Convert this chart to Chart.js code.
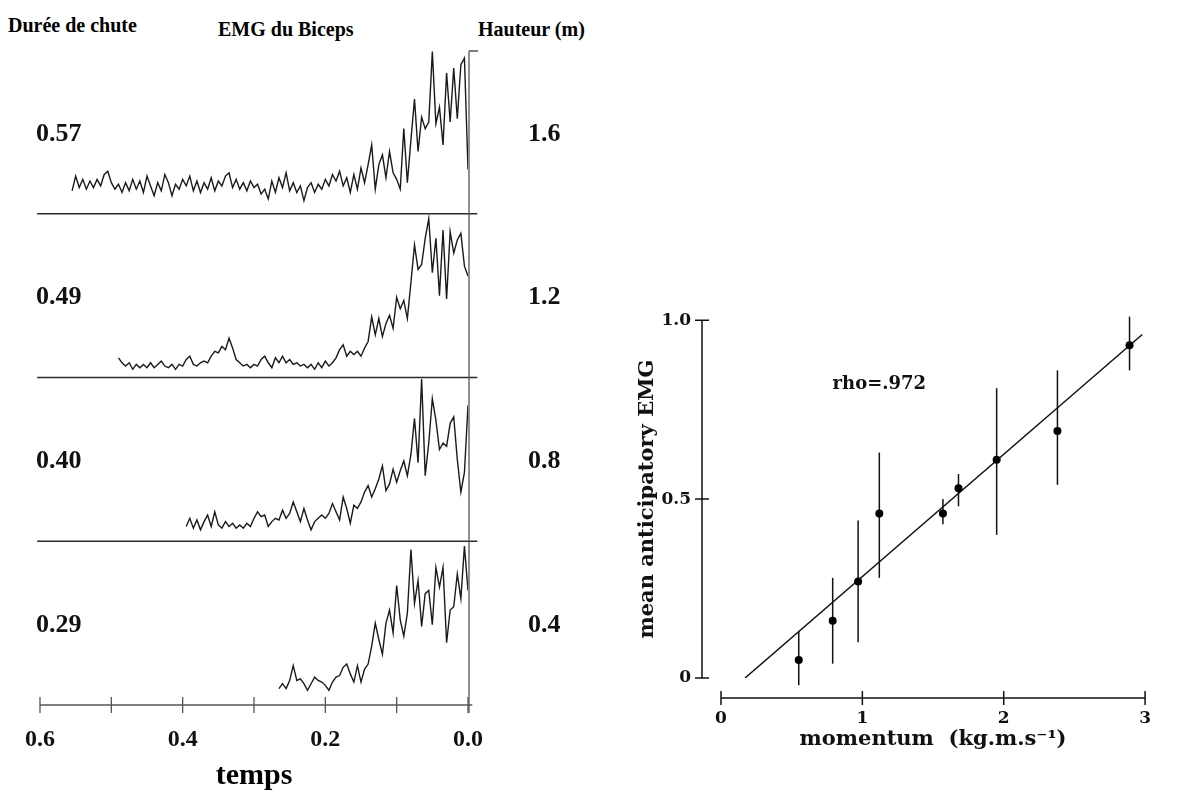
<!DOCTYPE html>
<html>
<head>
<meta charset="utf-8">
<script src="https://cdn.jsdelivr.net/npm/chart.js@4.4.0/dist/chart.umd.min.js"></script>
<style>
  html, body { margin: 0; padding: 0; background: #fff; }
  body { width: 1181px; height: 794px; position: relative; overflow: hidden; }
  #emg { position: absolute; left: 0; top: 0; }
  #corr { position: absolute; left: 600px; top: 280px; }
  .head { position: absolute; font: bold 20px "Liberation Serif", serif; line-height: 20px; color: #000; white-space: nowrap; }
</style>
</head>
<body>
<div class="head" style="left:8px; top:15px;">Durée de chute</div>
<div class="head" style="left:218px; top:19px;">EMG du Biceps</div>
<div class="head" style="left:478px; top:19px;">Hauteur (m)</div>
<canvas id="emg" width="600" height="794"></canvas>
<canvas id="corr" width="581" height="514"></canvas>
<script>
// left panel: EMG traces, one sample every 5 ms, time before contact (s)
const dt = 0.005;
const traceStart = [0.555, 0.49, 0.395, 0.265];
const dureeChute = ['0.57', '0.49', '0.40', '0.29'];
const hauteur = ['1.6', '1.2', '0.8', '0.4'];

// amplitude of each trace, as a fraction of its strip height
const emg057 = [
  0.14,0.23,0.16,0.21,0.15,0.20,0.16,0.21,0.17,0.24,
  0.26,0.19,0.15,0.18,0.13,0.19,0.14,0.21,0.15,0.20,
  0.13,0.23,0.17,0.11,0.19,0.14,0.24,0.19,0.11,0.18,
  0.15,0.21,0.17,0.23,0.14,0.20,0.13,0.19,0.15,0.22,
  0.14,0.20,0.17,0.23,0.25,0.16,0.21,0.15,0.19,0.14,
  0.20,0.16,0.18,0.12,0.15,0.09,0.20,0.13,0.22,0.16,
  0.25,0.14,0.19,0.13,0.17,0.08,0.16,0.19,0.13,0.18,
  0.15,0.21,0.17,0.24,0.20,0.26,0.17,0.22,0.13,0.24,
  0.15,0.28,0.19,0.30,0.42,0.15,0.30,0.36,0.22,0.38,
  0.25,0.21,0.15,0.52,0.19,0.45,0.70,0.38,0.59,0.52,
  0.56,0.99,0.55,0.65,0.42,0.86,0.56,0.89,0.58,0.91,
  0.95,0.27
];
const emg049 = [
  0.12,0.09,0.07,0.09,0.05,0.08,0.06,0.08,0.06,0.09,
  0.06,0.08,0.10,0.07,0.06,0.08,0.05,0.08,0.07,0.11,
  0.13,0.08,0.07,0.09,0.10,0.09,0.13,0.16,0.15,0.19,
  0.17,0.24,0.18,0.11,0.09,0.07,0.08,0.06,0.08,0.07,
  0.11,0.13,0.09,0.06,0.12,0.09,0.13,0.09,0.11,0.08,
  0.09,0.07,0.08,0.06,0.08,0.05,0.09,0.06,0.10,0.07,
  0.09,0.12,0.17,0.20,0.13,0.16,0.14,0.16,0.13,0.18,
  0.22,0.37,0.26,0.36,0.25,0.33,0.38,0.30,0.49,0.42,
  0.47,0.36,0.58,0.81,0.66,0.69,0.85,0.97,0.64,0.85,
  0.50,0.90,0.48,0.89,0.76,0.84,0.88,0.68,0.62
];
const emg040 = [
  0.09,0.14,0.08,0.13,0.07,0.12,0.16,0.09,0.18,0.10,
  0.08,0.12,0.09,0.11,0.08,0.10,0.08,0.11,0.09,0.14,
  0.18,0.15,0.16,0.09,0.12,0.14,0.13,0.19,0.14,0.17,
  0.24,0.18,0.12,0.20,0.13,0.07,0.12,0.14,0.16,0.14,
  0.17,0.23,0.18,0.13,0.27,0.20,0.11,0.22,0.20,0.24,
  0.30,0.34,0.27,0.32,0.38,0.46,0.31,0.35,0.44,0.36,
  0.43,0.49,0.40,0.53,0.75,0.48,0.99,0.40,0.60,0.87,
  0.74,0.56,0.60,0.58,0.72,0.76,0.50,0.30,0.42,0.83
];
const emg029 = [
  0.10,0.13,0.10,0.15,0.24,0.15,0.16,0.13,0.09,0.13,
  0.17,0.15,0.14,0.12,0.09,0.14,0.17,0.18,0.23,0.25,
  0.19,0.14,0.24,0.14,0.22,0.25,0.36,0.50,0.40,0.31,
  0.50,0.58,0.44,0.73,0.52,0.42,0.56,0.95,0.62,0.76,
  0.48,0.68,0.70,0.49,0.84,0.72,0.84,0.38,0.58,0.60,
  0.80,0.65,0.97,0.70
];
const traces = [emg057, emg049, emg040, emg029];

// right panel: mean anticipatory EMG vs momentum
const momentum = [0.55, 0.79, 0.97, 1.12, 1.57, 1.68, 1.95, 2.38, 2.89];
const emgMean  = [0.05, 0.16, 0.27, 0.46, 0.46, 0.53, 0.61, 0.69, 0.93];
const emgLow   = [-0.02, 0.04, 0.10, 0.28, 0.43, 0.48, 0.40, 0.54, 0.86];
const emgHigh  = [0.13, 0.28, 0.44, 0.63, 0.50, 0.57, 0.81, 0.86, 1.01];
const fitMomentum = [0.17, 2.98];
const fitEmg = [0, 0.96];

Chart.defaults.font.family = 'DejaVu Serif';
Chart.defaults.color = '#111';

const serif = 'bold 26px "Liberation Serif"';

const emgFrame = {
  id: 'emgFrame',
  afterDraw(chart) {
    const { ctx, scales: { x, y } } = chart;
    ctx.save();
    // strip separators
    ctx.strokeStyle = '#2a2a2a';
    ctx.lineWidth = 1.6;
    [1, 2, 3].forEach(b => {
      const py = y.getPixelForValue(b);
      ctx.beginPath();
      ctx.moveTo(x.getPixelForValue(0.604), py);
      ctx.lineTo(x.getPixelForValue(-0.013), py);
      ctx.stroke();
    });
    // time axis
    ctx.strokeStyle = '#555';
    ctx.lineWidth = 1.3;
    const by = y.getPixelForValue(0);
    ctx.beginPath();
    ctx.moveTo(x.getPixelForValue(0.6), by);
    ctx.lineTo(x.getPixelForValue(-0.006), by);
    ctx.stroke();
    x.ticks.forEach(t => {
      const px = x.getPixelForValue(t.value);
      ctx.beginPath();
      ctx.moveTo(px, by - 8);
      ctx.lineTo(px, by + 8);
      ctx.stroke();
    });
    // contact line at t = 0
    const cx = x.getPixelForValue(0) + 1;
    const top = y.getPixelForValue(4) + 1;
    ctx.beginPath();
    ctx.moveTo(cx, by + 8);
    ctx.lineTo(cx, top);
    ctx.moveTo(cx, top);
    ctx.lineTo(cx + 9, top);
    ctx.stroke();
    // labels of each strip
    ctx.fillStyle = '#111';
    ctx.font = serif;
    ctx.textBaseline = 'middle';
    ctx.textAlign = 'left';
    traces.forEach((amp, k) => {
      const py = y.getPixelForValue(3 - k + 0.5) + 2;
      ctx.fillText(dureeChute[k], 36, py);
      ctx.fillText(hauteur[k], 528, py);
    });
    ctx.restore();
  }
};

new Chart(document.getElementById('emg'), {
  type: 'line',
  data: {
    datasets: traces.map((amp, k) => ({
      data: amp.map((v, i) => ({ x: traceStart[k] - i * dt, y: 3 - k + v })),
      borderColor: '#1a1a1a',
      borderWidth: 1.4,
      pointRadius: 0,
      tension: 0,
      fill: false
    }))
  },
  options: {
    responsive: false,
    animation: false,
    events: [],
    layout: { padding: { left: 40, right: 132, top: 50, bottom: 0 } },
    plugins: { legend: { display: false }, tooltip: { enabled: false } },
    scales: {
      x: {
        type: 'linear',
        reverse: true,
        min: 0,
        max: 0.6,
        ticks: {
          stepSize: 0.1,
          autoSkip: false,
          maxRotation: 0,
          padding: 20,
          color: '#111',
          font: { family: 'Liberation Serif', size: 24, weight: 'bold' },
          callback: v => Math.round(v * 10) % 2 === 0 ? v.toFixed(1) : ''
        },
        grid: { display: false, drawTicks: false },
        border: { display: false },
        title: {
          display: true,
          text: 'temps',
          color: '#000',
          font: { family: 'Liberation Serif', size: 30, weight: 'bold' },
          padding: { top: 0, bottom: 0 }
        },
        afterFit: s => { s.height = 89; }
      },
      y: { display: false, min: 0, max: 4 }
    }
  },
  plugins: [emgFrame]
});

const corrFrame = {
  id: 'corrFrame',
  beforeDatasetsDraw(chart) {
    const { ctx, scales: { x, y } } = chart;
    ctx.save();
    ctx.strokeStyle = '#111';
    ctx.lineWidth = 1.5;
    momentum.forEach((m, i) => {
      const px = x.getPixelForValue(m);
      ctx.beginPath();
      ctx.moveTo(px, y.getPixelForValue(emgLow[i]));
      ctx.lineTo(px, y.getPixelForValue(emgHigh[i]));
      ctx.stroke();
    });
    ctx.restore();
  },
  afterDraw(chart) {
    const { ctx, scales: { x, y } } = chart;
    const ax = x.getPixelForValue(0) - 19;
    const ay = y.getPixelForValue(0) + 20;
    ctx.save();
    ctx.strokeStyle = '#111';
    ctx.lineWidth = 1.5;
    ctx.beginPath();
    ctx.moveTo(ax, y.getPixelForValue(1));
    ctx.lineTo(ax, y.getPixelForValue(0));
    y.ticks.forEach(t => {
      const py = y.getPixelForValue(t.value);
      ctx.moveTo(ax - 7, py);
      ctx.lineTo(ax + 7, py);
    });
    ctx.moveTo(x.getPixelForValue(0), ay);
    ctx.lineTo(x.getPixelForValue(3), ay);
    x.ticks.forEach(t => {
      const px = x.getPixelForValue(t.value);
      ctx.moveTo(px, ay - 7);
      ctx.lineTo(px, ay + 7);
    });
    ctx.stroke();
    ctx.fillStyle = '#111';
    ctx.font = 'bold 18px "DejaVu Serif"';
    ctx.textAlign = 'center';
    ctx.textBaseline = 'middle';
    ctx.fillText('rho=.972', x.getPixelForValue(1.12), y.getPixelForValue(0.82));
    ctx.restore();
  }
};

const axisFont = { family: 'DejaVu Serif', size: 17, weight: 'bold' };
const titleFont = { family: 'DejaVu Serif', size: 21, weight: 'bold' };

new Chart(document.getElementById('corr'), {
  type: 'scatter',
  data: {
    datasets: [
      {
        data: momentum.map((m, i) => ({ x: m, y: emgMean[i] })),
        pointRadius: 4,
        pointBackgroundColor: '#000',
        pointBorderWidth: 0
      },
      {
        data: fitMomentum.map((m, i) => ({ x: m, y: fitEmg[i] })),
        showLine: true,
        borderColor: '#111',
        borderWidth: 1.5,
        pointRadius: 0
      }
    ]
  },
  options: {
    responsive: false,
    animation: false,
    events: [],
    layout: { padding: { left: 0, right: 11, top: 26, bottom: 42 } },
    plugins: { legend: { display: false }, tooltip: { enabled: false } },
    scales: {
      x: {
        type: 'linear',
        min: 0,
        max: 3,
        ticks: { stepSize: 1, padding: 30, font: axisFont, maxRotation: 0 },
        grid: { display: false, drawTicks: false },
        border: { display: false },
        title: { display: true, text: 'momentum  (kg.m.s⁻¹)', font: titleFont, padding: { top: 0, bottom: 0 } },
        afterFit: s => { s.height = 74; }
      },
      y: {
        min: 0,
        max: 1,
        ticks: { stepSize: 0.5, padding: 30, font: axisFont, callback: v => v === 0 ? '0' : v.toFixed(1) },
        grid: { display: false, drawTicks: false },
        border: { display: false },
        title: { display: true, text: 'mean anticipatory EMG', font: titleFont, padding: { top: 35, bottom: 0 } },
        afterFit: s => { s.width = 121; }
      }
    }
  },
  plugins: [corrFrame]
});
</script>
</body>
</html>
